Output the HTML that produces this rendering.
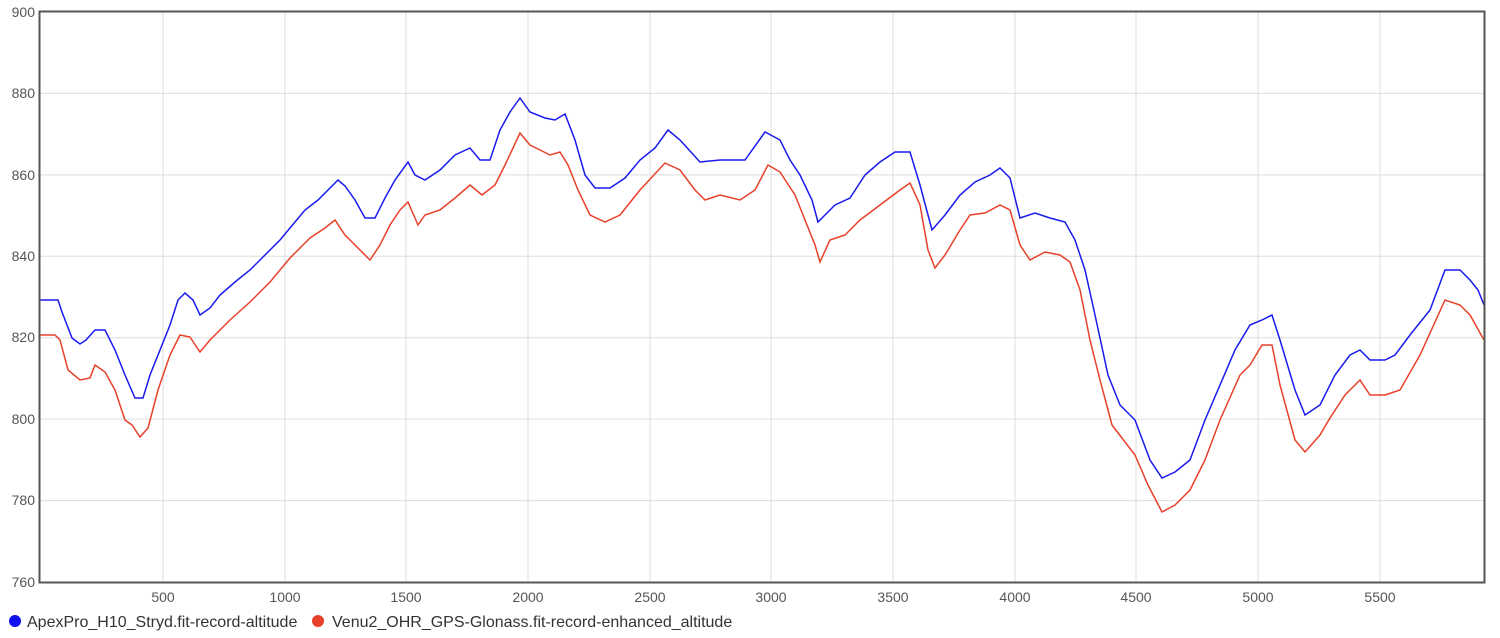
<!DOCTYPE html>
<html><head><meta charset="utf-8"><style>body{margin:0;background:#fff}svg{display:block}text{font-family:"Liberation Sans",sans-serif;font-size:14px;fill:#555}</style></head><body>
<svg width="1500" height="638" viewBox="0 0 1500 638">
<g stroke="#ddd" stroke-width="1">
<line x1="40" y1="93.4" x2="1485" y2="93.4"/><line x1="40" y1="174.9" x2="1485" y2="174.9"/><line x1="40" y1="256.3" x2="1485" y2="256.3"/><line x1="40" y1="337.7" x2="1485" y2="337.7"/><line x1="40" y1="419.1" x2="1485" y2="419.1"/><line x1="40" y1="500.6" x2="1485" y2="500.6"/>
<line x1="163" y1="12" x2="163" y2="582"/><line x1="285" y1="12" x2="285" y2="582"/><line x1="406" y1="12" x2="406" y2="582"/><line x1="528" y1="12" x2="528" y2="582"/><line x1="650" y1="12" x2="650" y2="582"/><line x1="771" y1="12" x2="771" y2="582"/><line x1="893" y1="12" x2="893" y2="582"/><line x1="1015" y1="12" x2="1015" y2="582"/><line x1="1136" y1="12" x2="1136" y2="582"/><line x1="1258" y1="12" x2="1258" y2="582"/><line x1="1380" y1="12" x2="1380" y2="582"/>
</g>
<polyline fill="none" stroke="#e8402a" stroke-width="1.5" points="40,335 55,335 60,340 68,370 80,380 90,378 95,365 105,372 115,390 125,420 132,425 140,437 148,428 158,390 170,355 180,335 190,337 200,352 210,340 230,320 250,302 270,282 290,258 310,238 325,228 335,220 345,235 360,250 370,260 380,245 390,225 400,210 408,202 418,225 425,215 440,210 455,198 470,185 482,195 495,185 505,165 520,133 530,145 540,150 550,155 560,152 568,165 578,190 590,215 605,222 620,215 640,190 665,163 680,170 695,190 705,200 720,195 740,200 755,190 768,165 780,172 795,195 805,220 815,245 820,262 830,240 845,235 860,220 880,205 900,190 910,183 920,205 928,250 935,268 945,255 960,230 970,215 985,213 1000,205 1010,210 1020,245 1030,260 1045,252 1060,255 1070,262 1080,290 1090,340 1100,380 1112,425 1125,442 1135,455 1148,485 1162,512 1175,505 1190,490 1205,460 1220,420 1240,375 1250,365 1262,345 1272,345 1280,385 1295,440 1305,452 1320,435 1330,418 1345,395 1360,380 1370,395 1385,395 1400,390 1420,355 1445,300 1460,305 1470,315 1484,340"/>
<polyline fill="none" stroke="#1a1aee" stroke-width="1.5" points="40,300 58,300 62,312 72,338 80,344 86,340 95,330 105,330 115,350 125,375 135,398 143,398 150,375 160,350 170,325 178,300 185,293 193,300 200,315 210,308 220,295 235,282 250,270 265,255 280,240 295,222 305,210 318,200 330,188 338,180 345,186 355,200 365,218 375,218 385,198 395,180 408,162 415,175 425,180 440,170 455,155 470,148 480,160 490,160 500,130 510,112 520,98 530,112 545,118 555,120 565,114 575,140 585,175 595,188 610,188 625,178 640,160 655,148 668,130 680,140 700,162 720,160 745,160 765,132 780,140 790,160 800,175 812,200 818,222 825,215 835,205 850,198 865,175 880,162 895,152 910,152 920,185 932,230 945,215 960,195 975,182 990,175 1000,168 1010,178 1020,218 1035,213 1050,218 1065,222 1075,240 1085,270 1095,315 1108,375 1120,405 1135,420 1150,460 1162,478 1175,472 1190,460 1205,420 1220,385 1235,350 1250,325 1262,320 1272,315 1280,340 1295,390 1305,415 1320,405 1335,375 1350,355 1360,350 1370,360 1385,360 1395,355 1410,335 1430,310 1445,270 1460,270 1470,280 1478,290 1484,305"/>
<rect x="39.5" y="11.5" width="1445" height="571" fill="none" stroke="#555" stroke-width="2"/>
<g text-anchor="end"><text x="35" y="17">900</text><text x="35" y="98">880</text><text x="35" y="180">860</text><text x="35" y="261">840</text><text x="35" y="342">820</text><text x="35" y="424">800</text><text x="35" y="505">780</text><text x="35" y="587">760</text></g>
<g text-anchor="middle"><text x="163" y="602">500</text><text x="285" y="602">1000</text><text x="406" y="602">1500</text><text x="528" y="602">2000</text><text x="650" y="602">2500</text><text x="771" y="602">3000</text><text x="893" y="602">3500</text><text x="1015" y="602">4000</text><text x="1136" y="602">4500</text><text x="1258" y="602">5000</text><text x="1380" y="602">5500</text></g>
<circle cx="15" cy="621" r="6" fill="#1010ee"/><text x="27" y="627" style="font-size:16px;fill:#333">ApexPro_H10_Stryd.fit-record-altitude</text>
<circle cx="318" cy="621" r="6" fill="#e8402a"/><text x="332" y="627" style="font-size:16px;fill:#333">Venu2_OHR_GPS-Glonass.fit-record-enhanced_altitude</text>
</svg></body></html>
